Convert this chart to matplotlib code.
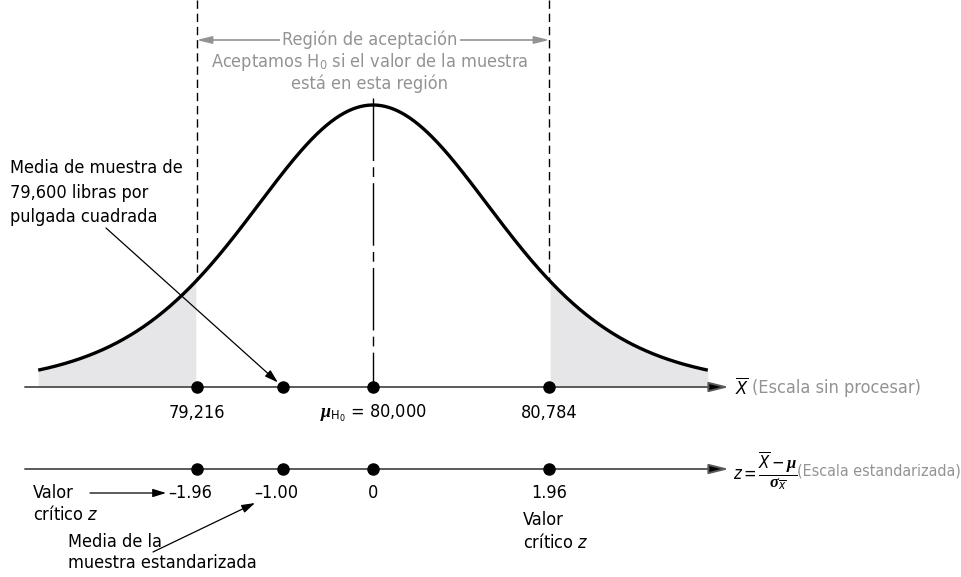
import numpy as np
import matplotlib
matplotlib.use("Agg")
import matplotlib.pyplot as plt
from matplotlib import font_manager

# valores del ejemplo (resistencia en libras por pulgada cuadrada)
mu_h0 = 80000
sigma_xbar = 400
xbar_points = [79216, 79600, 80000, 80784]
xbar_labels = ["79,216", "", r"$\mu_{\mathrm{H}_0}$ = 80,000", "80,784"]
z_points = [-1.96, -1.00, 0, 1.96]
z_labels = ["\u20131.96", "\u20131.00", "0", "1.96"]
z_crit = 1.96

# forma de la curva dibujada (colas algo pesadas)
curve_scale = 1.41
curve_df = 8
curve_half_width = 3.72

# buscar una fuente estrecha, si hay alguna
entries = font_manager.fontManager.ttflist
narrow = [f for f in entries
          if ('Narrow' in f.name or 'Condensed' in f.name
              or str(f.stretch) in ('condensed', 'semi-condensed', 'extra-condensed'))
          and f.style == 'normal' and f.weight in (400, 'normal', 'regular')]
stretch = 'normal'
FS = 13
if any(f.name == 'Liberation Sans Narrow' for f in narrow):
    FAM = 'Liberation Sans Narrow'
elif narrow:
    FAM = narrow[0].name
    stretch = narrow[0].stretch
else:
    FAM = 'Roboto'
    FS = 11

plt.rcParams['font.family'] = [FAM, 'DejaVu Sans']
plt.rcParams['font.stretch'] = stretch
plt.rcParams['mathtext.fontset'] = 'custom'
plt.rcParams['mathtext.rm'] = FAM
plt.rcParams['mathtext.it'] = 'Liberation Serif:italic:bold'
plt.rcParams['mathtext.sf'] = FAM + ':italic'

GRAY = '#939393'
AXIS = '#5a5a5a'


# helpers to place annotations in picture pixels
def X(px):
    return (px - 373) / 90.0


def Y(py):
    return (387 - py) / 282.0


def curve(z):
    u = z / curve_scale
    return (1 + u ** 2 / curve_df) ** (-(curve_df + 1) / 2)


fig = plt.figure(figsize=(9.62, 5.77), dpi=100)
ax = fig.add_axes([0, 0, 1, 1])
ax.set_xlim(X(0), X(962))
ax.set_ylim(Y(577), Y(0))
ax.axis('off')

zz = np.linspace(-curve_half_width, curve_half_width, 600)
yy = curve(zz)

# colas sombreadas
left = zz <= -z_crit
right = zz >= z_crit
ax.fill_between(zz[left], 0, yy[left], color='#e6e6e8', lw=0)
ax.fill_between(zz[right], 0, yy[right], color='#e6e6e8', lw=0)
ax.plot(zz, yy, color='black', lw=2.4, solid_capstyle='butt', zorder=4)

# lineas de valor critico
for zc in [-z_crit, z_crit]:
    ax.plot([zc, zc], [Y(0), curve(zc)], color='black', lw=1.0,
            dashes=(6, 3.5), zorder=3)

# linea central
ax.plot([0, 0], [Y(98), 0], color='black', lw=1.0,
        dashes=(45, 4.5, 7, 4.5), zorder=3)

# ejes
z_from_xbar = [(v - mu_h0) / sigma_xbar for v in xbar_points]
for yb in [0, Y(469)]:
    ax.annotate('', xy=(X(729), yb), xytext=(X(25), yb),
                arrowprops=dict(arrowstyle='-|>,head_length=1.2,head_width=0.3',
                                fc='black', ec=AXIS, lw=1.4,
                                shrinkA=0, shrinkB=0), zorder=2)

ax.plot(z_from_xbar, [0] * len(z_from_xbar), 'o', color='black', ms=8, zorder=5)
ax.plot(z_points, [Y(469)] * len(z_points), 'o', color='black', ms=8, zorder=5)

for zv, lab in zip(z_from_xbar, xbar_labels):
    if lab:
        ax.text(zv, Y(413), lab, ha='center', va='center', fontsize=FS)

for zv, lab in zip(z_points, z_labels):
    off = -0.07 if zv < 0 else 0
    ax.text(zv + off, Y(493), lab, ha='center', va='center', fontsize=FS)

# rotulos de escala
ax.text(X(735), Y(388), r'$\overline{\mathsf{X}}$', ha='left', va='center',
        fontsize=FS)
ax.text(X(752), Y(388), '(Escala sin procesar)', ha='left', va='center',
        fontsize=FS, color=GRAY)
ax.text(X(733), Y(471),
        r'$\mathsf{z} = \dfrac{\overline{\mathsf{X}} - \mu}{\sigma_{\overline{\mathsf{x}}}}$',
        ha='left', va='center', fontsize=FS - 1)
ax.text(X(961), Y(471), '(Escala estandarizada)', ha='right', va='center',
        fontsize=FS - 1.5, color=GRAY)

# region de aceptacion
ax.annotate('', xy=(-z_crit, Y(40)), xytext=(z_crit, Y(40)),
            arrowprops=dict(arrowstyle='<|-|>,head_length=0.9,head_width=0.22',
                            color=GRAY, lw=1.2, shrinkA=0, shrinkB=0))
ax.text(X(370), Y(40), 'Región de aceptación', ha='center', va='center',
        fontsize=FS, color=GRAY,
        bbox=dict(fc='white', ec='none', pad=1.5))
ax.text(X(370), Y(62), r'Aceptamos H$_0$ si el valor de la muestra',
        ha='center', va='center', fontsize=FS, color=GRAY)
ax.text(X(370), Y(84), 'está en esta región', ha='center', va='center',
        fontsize=FS, color=GRAY)

# media de la muestra
ax.text(X(10), Y(168), 'Media de muestra de', ha='left', va='center', fontsize=FS)
ax.text(X(10), Y(193), '79,600 libras por', ha='left', va='center', fontsize=FS)
ax.text(X(10), Y(217), 'pulgada cuadrada', ha='left', va='center', fontsize=FS)
ax.annotate('', xy=(z_from_xbar[1], 0), xytext=(X(106), Y(228)),
            arrowprops=dict(arrowstyle='-|>,head_length=0.8,head_width=0.25',
                            color='black', lw=0.9, shrinkA=0, shrinkB=5),
            zorder=6)

# valores criticos z
ax.text(X(33), Y(493), 'Valor', ha='left', va='center', fontsize=FS)
ax.text(X(33), Y(515), r'crítico $\mathsf{z}$', ha='left', va='center', fontsize=FS)
ax.annotate('', xy=(X(166), Y(493)), xytext=(X(90), Y(493)),
            arrowprops=dict(arrowstyle='-|>,head_length=0.8,head_width=0.25',
                            color='black', lw=0.9, shrinkA=0, shrinkB=0))
ax.text(X(523), Y(520), 'Valor', ha='left', va='center', fontsize=FS)
ax.text(X(523), Y(543), r'crítico $\mathsf{z}$', ha='left', va='center', fontsize=FS)

ax.text(X(68), Y(542), 'Media de la', ha='left', va='center', fontsize=FS)
ax.text(X(68), Y(563), 'muestra estandarizada', ha='left', va='center', fontsize=FS)
ax.annotate('', xy=(X(255), Y(503)), xytext=(X(153), Y(552)),
            arrowprops=dict(arrowstyle='-|>,head_length=0.8,head_width=0.25',
                            color='black', lw=0.9, shrinkA=0, shrinkB=0))

fig.savefig('out.png', dpi=100)
